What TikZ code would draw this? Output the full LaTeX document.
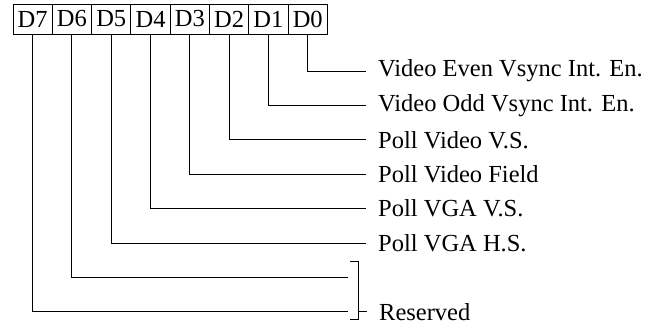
\documentclass[tikz,border=0pt]{standalone}
\usepackage{fontspec}
\setmainfont{Liberation Serif}
\begin{document}
\begin{tikzpicture}[x=1pt,y=-1pt,
  bitbox/.style={draw,line width=1pt,minimum width=39.3pt,minimum height=30pt,inner sep=0pt,font=\fontsize{24.5}{28}\selectfont},
  lbl/.style={anchor=west,inner xsep=12pt,inner ysep=0pt,font=\fontsize{24.5}{28}\selectfont},
  wire/.style={line width=1pt}]
\useasboundingbox (0,0) rectangle (660,330);
\foreach \i/\n in {0/7,1/6,2/5,3/4,4/3,5/2,6/1,7/0}{
  \node[bitbox] (b\n) at ({13+19.65+39.3*\i},19) {D\n};
}
\node[lbl] (l0) at (366,71) {Video Even Vsync Int. En.};
\node[lbl] (l1) at (366,105.4) {Video Odd Vsync Int. En.};
\node[lbl] (l2) at (366,139.8) {Poll Video V.S.};
\node[lbl] (l3) at (366,174.2) {Poll Video Field};
\node[lbl] (l4) at (366,208.6) {Poll VGA V.S.};
\node[lbl] (l5) at (366,243) {Poll VGA H.S.};
\coordinate (e6) at (348,277.4);
\coordinate (e7) at (348,311.8);
\node[lbl] (res) at (367,311.8) {Reserved};
\foreach \n in {0,...,5}{
  \draw[wire] (b\n.south) |- (l\n.west);
}
\draw[wire] (b6.south) |- (e6);
\draw[wire] (b7.south) |- (e7);
\coordinate (bt) at (358,261);
\coordinate (bb) at (358,319);
\coordinate (bm) at (358,311.8);
\draw[wire] ([xshift=-8pt]bt) -- (bt) -- (bb) -- ([xshift=-8pt]bb);
\draw[wire] (bm) -- (res.west);
\end{tikzpicture}
\end{document}
